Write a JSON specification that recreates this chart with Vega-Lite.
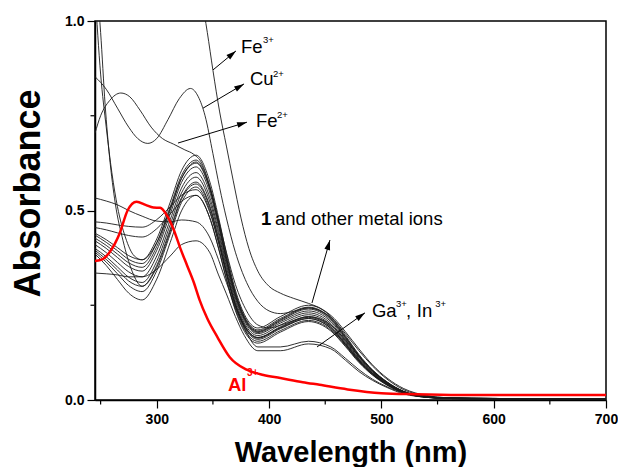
{
  "$schema": "https://vega.github.io/schema/vega-lite/v6.json",
  "width": 511,
  "height": 379,
  "autosize": {"type": "none"},
  "padding": {"left": 95, "top": 21, "right": 12, "bottom": 67},
  "background": "white",
  "config": {
    "view": {"stroke": "black", "strokeWidth": 1.5},
    "font": "Liberation Sans"
  },
  "datasets": {
    "spectra": [
      {"series":"c1","wavelength":245,"absorbance":0.44},{"series":"c1","wavelength":255,"absorbance":0.423},{"series":"c1","wavelength":265,"absorbance":0.402},{"series":"c1","wavelength":275,"absorbance":0.381},{"series":"c1","wavelength":287,"absorbance":0.37},{"series":"c1","wavelength":300,"absorbance":0.425},{"series":"c1","wavelength":312,"absorbance":0.522},{"series":"c1","wavelength":322,"absorbance":0.605},{"series":"c1","wavelength":335,"absorbance":0.646},{"series":"c1","wavelength":347,"absorbance":0.578},{"series":"c1","wavelength":355,"absorbance":0.482},{"series":"c1","wavelength":362,"absorbance":0.386},{"series":"c1","wavelength":370,"absorbance":0.29},{"series":"c1","wavelength":378,"absorbance":0.226},{"series":"c1","wavelength":390,"absorbance":0.19},{"series":"c1","wavelength":410,"absorbance":0.22},{"series":"c1","wavelength":435,"absorbance":0.25},{"series":"c1","wavelength":455,"absorbance":0.22},{"series":"c1","wavelength":468,"absorbance":0.17},{"series":"c1","wavelength":480,"absorbance":0.12},{"series":"c1","wavelength":492,"absorbance":0.08},{"series":"c1","wavelength":505,"absorbance":0.048},{"series":"c1","wavelength":520,"absorbance":0.023},{"series":"c1","wavelength":540,"absorbance":0.009},{"series":"c1","wavelength":560,"absorbance":0.005},{"series":"c1","wavelength":600,"absorbance":0.004},{"series":"c1","wavelength":700,"absorbance":0.003},
      {"series":"c2","wavelength":245,"absorbance":0.435},{"series":"c2","wavelength":255,"absorbance":0.416},{"series":"c2","wavelength":265,"absorbance":0.394},{"series":"c2","wavelength":275,"absorbance":0.371},{"series":"c2","wavelength":287,"absorbance":0.36},{"series":"c2","wavelength":300,"absorbance":0.415},{"series":"c2","wavelength":312,"absorbance":0.51},{"series":"c2","wavelength":322,"absorbance":0.592},{"series":"c2","wavelength":335,"absorbance":0.633},{"series":"c2","wavelength":347,"absorbance":0.566},{"series":"c2","wavelength":355,"absorbance":0.472},{"series":"c2","wavelength":362,"absorbance":0.378},{"series":"c2","wavelength":370,"absorbance":0.284},{"series":"c2","wavelength":378,"absorbance":0.221},{"series":"c2","wavelength":390,"absorbance":0.185},{"series":"c2","wavelength":410,"absorbance":0.215},{"series":"c2","wavelength":435,"absorbance":0.245},{"series":"c2","wavelength":455,"absorbance":0.216},{"series":"c2","wavelength":468,"absorbance":0.167},{"series":"c2","wavelength":480,"absorbance":0.118},{"series":"c2","wavelength":492,"absorbance":0.078},{"series":"c2","wavelength":505,"absorbance":0.047},{"series":"c2","wavelength":520,"absorbance":0.022},{"series":"c2","wavelength":540,"absorbance":0.009},{"series":"c2","wavelength":560,"absorbance":0.005},{"series":"c2","wavelength":600,"absorbance":0.004},{"series":"c2","wavelength":700,"absorbance":0.003},
      {"series":"c3","wavelength":245,"absorbance":0.427},{"series":"c3","wavelength":255,"absorbance":0.408},{"series":"c3","wavelength":265,"absorbance":0.385},{"series":"c3","wavelength":275,"absorbance":0.362},{"series":"c3","wavelength":287,"absorbance":0.35},{"series":"c3","wavelength":300,"absorbance":0.405},{"series":"c3","wavelength":312,"absorbance":0.501},{"series":"c3","wavelength":322,"absorbance":0.584},{"series":"c3","wavelength":335,"absorbance":0.625},{"series":"c3","wavelength":347,"absorbance":0.558},{"series":"c3","wavelength":355,"absorbance":0.465},{"series":"c3","wavelength":362,"absorbance":0.371},{"series":"c3","wavelength":370,"absorbance":0.278},{"series":"c3","wavelength":378,"absorbance":0.216},{"series":"c3","wavelength":390,"absorbance":0.18},{"series":"c3","wavelength":410,"absorbance":0.21},{"series":"c3","wavelength":435,"absorbance":0.24},{"series":"c3","wavelength":455,"absorbance":0.211},{"series":"c3","wavelength":468,"absorbance":0.163},{"series":"c3","wavelength":480,"absorbance":0.115},{"series":"c3","wavelength":492,"absorbance":0.077},{"series":"c3","wavelength":505,"absorbance":0.046},{"series":"c3","wavelength":520,"absorbance":0.022},{"series":"c3","wavelength":540,"absorbance":0.008},{"series":"c3","wavelength":560,"absorbance":0.005},{"series":"c3","wavelength":600,"absorbance":0.004},{"series":"c3","wavelength":700,"absorbance":0.003},
      {"series":"c4","wavelength":245,"absorbance":0.42},{"series":"c4","wavelength":255,"absorbance":0.4},{"series":"c4","wavelength":265,"absorbance":0.376},{"series":"c4","wavelength":275,"absorbance":0.352},{"series":"c4","wavelength":287,"absorbance":0.34},{"series":"c4","wavelength":300,"absorbance":0.395},{"series":"c4","wavelength":312,"absorbance":0.491},{"series":"c4","wavelength":322,"absorbance":0.574},{"series":"c4","wavelength":335,"absorbance":0.615},{"series":"c4","wavelength":347,"absorbance":0.549},{"series":"c4","wavelength":355,"absorbance":0.458},{"series":"c4","wavelength":362,"absorbance":0.366},{"series":"c4","wavelength":370,"absorbance":0.274},{"series":"c4","wavelength":378,"absorbance":0.213},{"series":"c4","wavelength":390,"absorbance":0.178},{"series":"c4","wavelength":410,"absorbance":0.207},{"series":"c4","wavelength":435,"absorbance":0.235},{"series":"c4","wavelength":455,"absorbance":0.207},{"series":"c4","wavelength":468,"absorbance":0.16},{"series":"c4","wavelength":480,"absorbance":0.113},{"series":"c4","wavelength":492,"absorbance":0.075},{"series":"c4","wavelength":505,"absorbance":0.045},{"series":"c4","wavelength":520,"absorbance":0.021},{"series":"c4","wavelength":540,"absorbance":0.008},{"series":"c4","wavelength":560,"absorbance":0.005},{"series":"c4","wavelength":600,"absorbance":0.004},{"series":"c4","wavelength":700,"absorbance":0.003},
      {"series":"c5","wavelength":245,"absorbance":0.41},{"series":"c5","wavelength":255,"absorbance":0.389},{"series":"c5","wavelength":265,"absorbance":0.363},{"series":"c5","wavelength":275,"absorbance":0.338},{"series":"c5","wavelength":287,"absorbance":0.325},{"series":"c5","wavelength":300,"absorbance":0.38},{"series":"c5","wavelength":312,"absorbance":0.476},{"series":"c5","wavelength":322,"absorbance":0.559},{"series":"c5","wavelength":335,"absorbance":0.6},{"series":"c5","wavelength":347,"absorbance":0.536},{"series":"c5","wavelength":355,"absorbance":0.447},{"series":"c5","wavelength":362,"absorbance":0.358},{"series":"c5","wavelength":370,"absorbance":0.269},{"series":"c5","wavelength":378,"absorbance":0.209},{"series":"c5","wavelength":390,"absorbance":0.175},{"series":"c5","wavelength":410,"absorbance":0.203},{"series":"c5","wavelength":435,"absorbance":0.23},{"series":"c5","wavelength":455,"absorbance":0.202},{"series":"c5","wavelength":468,"absorbance":0.156},{"series":"c5","wavelength":480,"absorbance":0.11},{"series":"c5","wavelength":492,"absorbance":0.074},{"series":"c5","wavelength":505,"absorbance":0.044},{"series":"c5","wavelength":520,"absorbance":0.021},{"series":"c5","wavelength":540,"absorbance":0.008},{"series":"c5","wavelength":560,"absorbance":0.005},{"series":"c5","wavelength":600,"absorbance":0.003},{"series":"c5","wavelength":700,"absorbance":0.003},
      {"series":"c6","wavelength":245,"absorbance":0.4},{"series":"c6","wavelength":255,"absorbance":0.378},{"series":"c6","wavelength":265,"absorbance":0.351},{"series":"c6","wavelength":275,"absorbance":0.324},{"series":"c6","wavelength":287,"absorbance":0.31},{"series":"c6","wavelength":300,"absorbance":0.366},{"series":"c6","wavelength":312,"absorbance":0.463},{"series":"c6","wavelength":322,"absorbance":0.546},{"series":"c6","wavelength":335,"absorbance":0.588},{"series":"c6","wavelength":347,"absorbance":0.525},{"series":"c6","wavelength":355,"absorbance":0.438},{"series":"c6","wavelength":362,"absorbance":0.35},{"series":"c6","wavelength":370,"absorbance":0.262},{"series":"c6","wavelength":378,"absorbance":0.203},{"series":"c6","wavelength":390,"absorbance":0.17},{"series":"c6","wavelength":410,"absorbance":0.198},{"series":"c6","wavelength":435,"absorbance":0.225},{"series":"c6","wavelength":455,"absorbance":0.198},{"series":"c6","wavelength":468,"absorbance":0.153},{"series":"c6","wavelength":480,"absorbance":0.108},{"series":"c6","wavelength":492,"absorbance":0.072},{"series":"c6","wavelength":505,"absorbance":0.043},{"series":"c6","wavelength":520,"absorbance":0.02},{"series":"c6","wavelength":540,"absorbance":0.008},{"series":"c6","wavelength":560,"absorbance":0.005},{"series":"c6","wavelength":600,"absorbance":0.003},{"series":"c6","wavelength":700,"absorbance":0.003},
      {"series":"c7","wavelength":245,"absorbance":0.395},{"series":"c7","wavelength":255,"absorbance":0.371},{"series":"c7","wavelength":265,"absorbance":0.343},{"series":"c7","wavelength":275,"absorbance":0.314},{"series":"c7","wavelength":287,"absorbance":0.3},{"series":"c7","wavelength":300,"absorbance":0.355},{"series":"c7","wavelength":312,"absorbance":0.451},{"series":"c7","wavelength":322,"absorbance":0.534},{"series":"c7","wavelength":335,"absorbance":0.575},{"series":"c7","wavelength":347,"absorbance":0.514},{"series":"c7","wavelength":355,"absorbance":0.427},{"series":"c7","wavelength":362,"absorbance":0.341},{"series":"c7","wavelength":370,"absorbance":0.255},{"series":"c7","wavelength":378,"absorbance":0.198},{"series":"c7","wavelength":390,"absorbance":0.165},{"series":"c7","wavelength":410,"absorbance":0.193},{"series":"c7","wavelength":435,"absorbance":0.22},{"series":"c7","wavelength":455,"absorbance":0.194},{"series":"c7","wavelength":468,"absorbance":0.15},{"series":"c7","wavelength":480,"absorbance":0.106},{"series":"c7","wavelength":492,"absorbance":0.07},{"series":"c7","wavelength":505,"absorbance":0.042},{"series":"c7","wavelength":520,"absorbance":0.02},{"series":"c7","wavelength":540,"absorbance":0.008},{"series":"c7","wavelength":560,"absorbance":0.004},{"series":"c7","wavelength":600,"absorbance":0.003},{"series":"c7","wavelength":700,"absorbance":0.003},
      {"series":"c8","wavelength":245,"absorbance":0.39},{"series":"c8","wavelength":255,"absorbance":0.364},{"series":"c8","wavelength":265,"absorbance":0.333},{"series":"c8","wavelength":275,"absorbance":0.302},{"series":"c8","wavelength":287,"absorbance":0.286},{"series":"c8","wavelength":300,"absorbance":0.341},{"series":"c8","wavelength":312,"absorbance":0.438},{"series":"c8","wavelength":322,"absorbance":0.521},{"series":"c8","wavelength":335,"absorbance":0.562},{"series":"c8","wavelength":347,"absorbance":0.502},{"series":"c8","wavelength":355,"absorbance":0.417},{"series":"c8","wavelength":362,"absorbance":0.333},{"series":"c8","wavelength":370,"absorbance":0.248},{"series":"c8","wavelength":378,"absorbance":0.192},{"series":"c8","wavelength":390,"absorbance":0.16},{"series":"c8","wavelength":410,"absorbance":0.188},{"series":"c8","wavelength":435,"absorbance":0.215},{"series":"c8","wavelength":455,"absorbance":0.189},{"series":"c8","wavelength":468,"absorbance":0.146},{"series":"c8","wavelength":480,"absorbance":0.103},{"series":"c8","wavelength":492,"absorbance":0.069},{"series":"c8","wavelength":505,"absorbance":0.041},{"series":"c8","wavelength":520,"absorbance":0.019},{"series":"c8","wavelength":540,"absorbance":0.008},{"series":"c8","wavelength":560,"absorbance":0.004},{"series":"c8","wavelength":600,"absorbance":0.003},{"series":"c8","wavelength":700,"absorbance":0.003},
      {"series":"c9","wavelength":245,"absorbance":0.385},{"series":"c9","wavelength":255,"absorbance":0.355},{"series":"c9","wavelength":265,"absorbance":0.318},{"series":"c9","wavelength":275,"absorbance":0.282},{"series":"c9","wavelength":287,"absorbance":0.264},{"series":"c9","wavelength":300,"absorbance":0.319},{"series":"c9","wavelength":312,"absorbance":0.416},{"series":"c9","wavelength":322,"absorbance":0.499},{"series":"c9","wavelength":335,"absorbance":0.54},{"series":"c9","wavelength":347,"absorbance":0.482},{"series":"c9","wavelength":355,"absorbance":0.401},{"series":"c9","wavelength":362,"absorbance":0.321},{"series":"c9","wavelength":370,"absorbance":0.24},{"series":"c9","wavelength":378,"absorbance":0.186},{"series":"c9","wavelength":390,"absorbance":0.155},{"series":"c9","wavelength":410,"absorbance":0.183},{"series":"c9","wavelength":435,"absorbance":0.21},{"series":"c9","wavelength":455,"absorbance":0.185},{"series":"c9","wavelength":468,"absorbance":0.143},{"series":"c9","wavelength":480,"absorbance":0.101},{"series":"c9","wavelength":492,"absorbance":0.067},{"series":"c9","wavelength":505,"absorbance":0.04},{"series":"c9","wavelength":520,"absorbance":0.019},{"series":"c9","wavelength":540,"absorbance":0.007},{"series":"c9","wavelength":560,"absorbance":0.004},{"series":"c9","wavelength":600,"absorbance":0.003},{"series":"c9","wavelength":700,"absorbance":0.003},
      {"series":"c10","wavelength":245,"absorbance":0.455},{"series":"c10","wavelength":255,"absorbance":0.449},{"series":"c10","wavelength":265,"absorbance":0.441},{"series":"c10","wavelength":275,"absorbance":0.434},{"series":"c10","wavelength":287,"absorbance":0.43},{"series":"c10","wavelength":300,"absorbance":0.452},{"series":"c10","wavelength":312,"absorbance":0.491},{"series":"c10","wavelength":322,"absorbance":0.524},{"series":"c10","wavelength":335,"absorbance":0.54},{"series":"c10","wavelength":347,"absorbance":0.482},{"series":"c10","wavelength":355,"absorbance":0.4},{"series":"c10","wavelength":362,"absorbance":0.318},{"series":"c10","wavelength":370,"absorbance":0.236},{"series":"c10","wavelength":378,"absorbance":0.181},{"series":"c10","wavelength":390,"absorbance":0.15},{"series":"c10","wavelength":410,"absorbance":0.179},{"series":"c10","wavelength":435,"absorbance":0.207},{"series":"c10","wavelength":455,"absorbance":0.182},{"series":"c10","wavelength":468,"absorbance":0.141},{"series":"c10","wavelength":480,"absorbance":0.099},{"series":"c10","wavelength":492,"absorbance":0.066},{"series":"c10","wavelength":505,"absorbance":0.039},{"series":"c10","wavelength":520,"absorbance":0.019},{"series":"c10","wavelength":540,"absorbance":0.007},{"series":"c10","wavelength":560,"absorbance":0.004},{"series":"c10","wavelength":600,"absorbance":0.003},{"series":"c10","wavelength":700,"absorbance":0.002},
      {"series":"c11","wavelength":245,"absorbance":0.47},{"series":"c11","wavelength":255,"absorbance":0.467},{"series":"c11","wavelength":265,"absorbance":0.462},{"series":"c11","wavelength":275,"absorbance":0.458},{"series":"c11","wavelength":287,"absorbance":0.456},{"series":"c11","wavelength":300,"absorbance":0.476},{"series":"c11","wavelength":312,"absorbance":0.51},{"series":"c11","wavelength":322,"absorbance":0.54},{"series":"c11","wavelength":335,"absorbance":0.555},{"series":"c11","wavelength":347,"absorbance":0.497},{"series":"c11","wavelength":355,"absorbance":0.415},{"series":"c11","wavelength":362,"absorbance":0.333},{"series":"c11","wavelength":370,"absorbance":0.251},{"series":"c11","wavelength":378,"absorbance":0.196},{"series":"c11","wavelength":390,"absorbance":0.165},{"series":"c11","wavelength":410,"absorbance":0.19},{"series":"c11","wavelength":435,"absorbance":0.215},{"series":"c11","wavelength":455,"absorbance":0.189},{"series":"c11","wavelength":468,"absorbance":0.146},{"series":"c11","wavelength":480,"absorbance":0.103},{"series":"c11","wavelength":492,"absorbance":0.069},{"series":"c11","wavelength":505,"absorbance":0.041},{"series":"c11","wavelength":520,"absorbance":0.019},{"series":"c11","wavelength":540,"absorbance":0.008},{"series":"c11","wavelength":560,"absorbance":0.004},{"series":"c11","wavelength":600,"absorbance":0.003},{"series":"c11","wavelength":700,"absorbance":0.003},
      {"series":"h1","wavelength":245,"absorbance":1.08},{"series":"h1","wavelength":250,"absorbance":0.86},{"series":"h1","wavelength":255,"absorbance":0.72},{"series":"h1","wavelength":260,"absorbance":0.6},{"series":"h1","wavelength":265,"absorbance":0.51},{"series":"h1","wavelength":272,"absorbance":0.43},{"series":"h1","wavelength":280,"absorbance":0.38},{"series":"h1","wavelength":287,"absorbance":0.37},{"series":"h1","wavelength":300,"absorbance":0.415},{"series":"h1","wavelength":312,"absorbance":0.505},{"series":"h1","wavelength":322,"absorbance":0.585},{"series":"h1","wavelength":335,"absorbance":0.628},{"series":"h1","wavelength":347,"absorbance":0.56},{"series":"h1","wavelength":355,"absorbance":0.467},{"series":"h1","wavelength":362,"absorbance":0.373},{"series":"h1","wavelength":370,"absorbance":0.28},{"series":"h1","wavelength":378,"absorbance":0.218},{"series":"h1","wavelength":390,"absorbance":0.182},{"series":"h1","wavelength":410,"absorbance":0.212},{"series":"h1","wavelength":435,"absorbance":0.243},{"series":"h1","wavelength":455,"absorbance":0.214},{"series":"h1","wavelength":468,"absorbance":0.165},{"series":"h1","wavelength":480,"absorbance":0.117},{"series":"h1","wavelength":492,"absorbance":0.078},{"series":"h1","wavelength":505,"absorbance":0.046},{"series":"h1","wavelength":520,"absorbance":0.022},{"series":"h1","wavelength":540,"absorbance":0.009},{"series":"h1","wavelength":560,"absorbance":0.005},{"series":"h1","wavelength":600,"absorbance":0.004},{"series":"h1","wavelength":700,"absorbance":0.003},
      {"series":"h2","wavelength":245,"absorbance":1.15},{"series":"h2","wavelength":250,"absorbance":0.97},{"series":"h2","wavelength":254,"absorbance":0.78},{"series":"h2","wavelength":258,"absorbance":0.64},{"series":"h2","wavelength":263,"absorbance":0.52},{"series":"h2","wavelength":270,"absorbance":0.42},{"series":"h2","wavelength":278,"absorbance":0.34},{"series":"h2","wavelength":287,"absorbance":0.3},{"series":"h2","wavelength":300,"absorbance":0.35},{"series":"h2","wavelength":312,"absorbance":0.445},{"series":"h2","wavelength":322,"absorbance":0.53},{"series":"h2","wavelength":335,"absorbance":0.57},{"series":"h2","wavelength":347,"absorbance":0.51},{"series":"h2","wavelength":355,"absorbance":0.424},{"series":"h2","wavelength":362,"absorbance":0.338},{"series":"h2","wavelength":370,"absorbance":0.252},{"series":"h2","wavelength":378,"absorbance":0.196},{"series":"h2","wavelength":390,"absorbance":0.163},{"series":"h2","wavelength":410,"absorbance":0.191},{"series":"h2","wavelength":435,"absorbance":0.218},{"series":"h2","wavelength":455,"absorbance":0.192},{"series":"h2","wavelength":468,"absorbance":0.148},{"series":"h2","wavelength":480,"absorbance":0.105},{"series":"h2","wavelength":492,"absorbance":0.07},{"series":"h2","wavelength":505,"absorbance":0.042},{"series":"h2","wavelength":520,"absorbance":0.02},{"series":"h2","wavelength":540,"absorbance":0.008},{"series":"h2","wavelength":560,"absorbance":0.004},{"series":"h2","wavelength":600,"absorbance":0.003},{"series":"h2","wavelength":700,"absorbance":0.003},
      {"series":"Fe3+","wavelength":245,"absorbance":1.6},{"series":"Fe3+","wavelength":300,"absorbance":1.45},{"series":"Fe3+","wavelength":330,"absorbance":1.2},{"series":"Fe3+","wavelength":340,"absorbance":1.06},{"series":"Fe3+","wavelength":345,"absorbance":0.97},{"series":"Fe3+","wavelength":350,"absorbance":0.87},{"series":"Fe3+","wavelength":356,"absorbance":0.76},{"series":"Fe3+","wavelength":362,"absorbance":0.67},{"series":"Fe3+","wavelength":368,"absorbance":0.58},{"series":"Fe3+","wavelength":375,"absorbance":0.48},{"series":"Fe3+","wavelength":382,"absorbance":0.4},{"series":"Fe3+","wavelength":390,"absorbance":0.34},{"series":"Fe3+","wavelength":400,"absorbance":0.3},{"series":"Fe3+","wavelength":410,"absorbance":0.282},{"series":"Fe3+","wavelength":422,"absorbance":0.268},{"series":"Fe3+","wavelength":435,"absorbance":0.255},{"series":"Fe3+","wavelength":447,"absorbance":0.24},{"series":"Fe3+","wavelength":458,"absorbance":0.215},{"series":"Fe3+","wavelength":468,"absorbance":0.18},{"series":"Fe3+","wavelength":480,"absorbance":0.135},{"series":"Fe3+","wavelength":492,"absorbance":0.093},{"series":"Fe3+","wavelength":505,"absorbance":0.058},{"series":"Fe3+","wavelength":520,"absorbance":0.03},{"series":"Fe3+","wavelength":540,"absorbance":0.012},{"series":"Fe3+","wavelength":560,"absorbance":0.006},{"series":"Fe3+","wavelength":600,"absorbance":0.004},{"series":"Fe3+","wavelength":700,"absorbance":0.003},
      {"series":"Cu2+","wavelength":245,"absorbance":0.853},{"series":"Cu2+","wavelength":255,"absorbance":0.82},{"series":"Cu2+","wavelength":265,"absorbance":0.77},{"series":"Cu2+","wavelength":275,"absorbance":0.72},{"series":"Cu2+","wavelength":283,"absorbance":0.69},{"series":"Cu2+","wavelength":292,"absorbance":0.677},{"series":"Cu2+","wavelength":300,"absorbance":0.69},{"series":"Cu2+","wavelength":310,"absorbance":0.74},{"series":"Cu2+","wavelength":320,"absorbance":0.795},{"series":"Cu2+","wavelength":330,"absorbance":0.822},{"series":"Cu2+","wavelength":337,"absorbance":0.8},{"series":"Cu2+","wavelength":343,"absorbance":0.75},{"series":"Cu2+","wavelength":350,"absorbance":0.65},{"series":"Cu2+","wavelength":356,"absorbance":0.56},{"series":"Cu2+","wavelength":362,"absorbance":0.48},{"series":"Cu2+","wavelength":370,"absorbance":0.39},{"series":"Cu2+","wavelength":380,"absorbance":0.31},{"series":"Cu2+","wavelength":390,"absorbance":0.26},{"series":"Cu2+","wavelength":400,"absorbance":0.235},{"series":"Cu2+","wavelength":410,"absorbance":0.228},{"series":"Cu2+","wavelength":422,"absorbance":0.234},{"series":"Cu2+","wavelength":435,"absorbance":0.243},{"series":"Cu2+","wavelength":447,"absorbance":0.233},{"series":"Cu2+","wavelength":458,"absorbance":0.21},{"series":"Cu2+","wavelength":468,"absorbance":0.175},{"series":"Cu2+","wavelength":480,"absorbance":0.13},{"series":"Cu2+","wavelength":492,"absorbance":0.09},{"series":"Cu2+","wavelength":505,"absorbance":0.055},{"series":"Cu2+","wavelength":520,"absorbance":0.027},{"series":"Cu2+","wavelength":540,"absorbance":0.011},{"series":"Cu2+","wavelength":560,"absorbance":0.006},{"series":"Cu2+","wavelength":600,"absorbance":0.004},{"series":"Cu2+","wavelength":700,"absorbance":0.003},
      {"series":"Fe2+","wavelength":245,"absorbance":0.704},{"series":"Fe2+","wavelength":250,"absorbance":0.75},{"series":"Fe2+","wavelength":258,"absorbance":0.79},{"series":"Fe2+","wavelength":268,"absorbance":0.81},{"series":"Fe2+","wavelength":276,"absorbance":0.8},{"series":"Fe2+","wavelength":285,"absorbance":0.765},{"series":"Fe2+","wavelength":295,"absorbance":0.72},{"series":"Fe2+","wavelength":305,"absorbance":0.69},{"series":"Fe2+","wavelength":315,"absorbance":0.675},{"series":"Fe2+","wavelength":325,"absorbance":0.66},{"series":"Fe2+","wavelength":333,"absorbance":0.648},{"series":"Fe2+","wavelength":340,"absorbance":0.625},{"series":"Fe2+","wavelength":347,"absorbance":0.565},{"series":"Fe2+","wavelength":355,"absorbance":0.475},{"series":"Fe2+","wavelength":362,"absorbance":0.39},{"series":"Fe2+","wavelength":370,"absorbance":0.305},{"series":"Fe2+","wavelength":380,"absorbance":0.235},{"series":"Fe2+","wavelength":390,"absorbance":0.198},{"series":"Fe2+","wavelength":400,"absorbance":0.19},{"series":"Fe2+","wavelength":410,"absorbance":0.197},{"series":"Fe2+","wavelength":422,"absorbance":0.21},{"series":"Fe2+","wavelength":435,"absorbance":0.22},{"series":"Fe2+","wavelength":447,"absorbance":0.212},{"series":"Fe2+","wavelength":458,"absorbance":0.19},{"series":"Fe2+","wavelength":468,"absorbance":0.158},{"series":"Fe2+","wavelength":480,"absorbance":0.115},{"series":"Fe2+","wavelength":492,"absorbance":0.078},{"series":"Fe2+","wavelength":505,"absorbance":0.047},{"series":"Fe2+","wavelength":520,"absorbance":0.022},{"series":"Fe2+","wavelength":540,"absorbance":0.009},{"series":"Fe2+","wavelength":560,"absorbance":0.005},{"series":"Fe2+","wavelength":600,"absorbance":0.004},{"series":"Fe2+","wavelength":700,"absorbance":0.003},
      {"series":"Ga3+","wavelength":245,"absorbance":0.533},{"series":"Ga3+","wavelength":255,"absorbance":0.525},{"series":"Ga3+","wavelength":265,"absorbance":0.515},{"series":"Ga3+","wavelength":275,"absorbance":0.5},{"series":"Ga3+","wavelength":287,"absorbance":0.485},{"series":"Ga3+","wavelength":300,"absorbance":0.472},{"series":"Ga3+","wavelength":312,"absorbance":0.47},{"series":"Ga3+","wavelength":322,"absorbance":0.475},{"series":"Ga3+","wavelength":335,"absorbance":0.47},{"series":"Ga3+","wavelength":347,"absorbance":0.43},{"series":"Ga3+","wavelength":355,"absorbance":0.37},{"series":"Ga3+","wavelength":362,"absorbance":0.31},{"series":"Ga3+","wavelength":370,"absorbance":0.245},{"series":"Ga3+","wavelength":378,"absorbance":0.19},{"series":"Ga3+","wavelength":390,"absorbance":0.14},{"series":"Ga3+","wavelength":410,"absorbance":0.14},{"series":"Ga3+","wavelength":435,"absorbance":0.155},{"series":"Ga3+","wavelength":455,"absorbance":0.14},{"series":"Ga3+","wavelength":468,"absorbance":0.11},{"series":"Ga3+","wavelength":480,"absorbance":0.08},{"series":"Ga3+","wavelength":492,"absorbance":0.055},{"series":"Ga3+","wavelength":505,"absorbance":0.035},{"series":"Ga3+","wavelength":520,"absorbance":0.018},{"series":"Ga3+","wavelength":540,"absorbance":0.008},{"series":"Ga3+","wavelength":560,"absorbance":0.004},{"series":"Ga3+","wavelength":600,"absorbance":0.003},{"series":"Ga3+","wavelength":700,"absorbance":0.003},
      {"series":"In3+","wavelength":245,"absorbance":0.335},{"series":"In3+","wavelength":255,"absorbance":0.333},{"series":"In3+","wavelength":265,"absorbance":0.33},{"series":"In3+","wavelength":275,"absorbance":0.325},{"series":"In3+","wavelength":287,"absorbance":0.325},{"series":"In3+","wavelength":300,"absorbance":0.345},{"series":"In3+","wavelength":312,"absorbance":0.38},{"series":"In3+","wavelength":322,"absorbance":0.41},{"series":"In3+","wavelength":335,"absorbance":0.42},{"series":"In3+","wavelength":347,"absorbance":0.39},{"series":"In3+","wavelength":355,"absorbance":0.33},{"series":"In3+","wavelength":362,"absorbance":0.28},{"series":"In3+","wavelength":370,"absorbance":0.22},{"series":"In3+","wavelength":378,"absorbance":0.17},{"series":"In3+","wavelength":390,"absorbance":0.13},{"series":"In3+","wavelength":410,"absorbance":0.13},{"series":"In3+","wavelength":435,"absorbance":0.148},{"series":"In3+","wavelength":455,"absorbance":0.135},{"series":"In3+","wavelength":468,"absorbance":0.105},{"series":"In3+","wavelength":480,"absorbance":0.075},{"series":"In3+","wavelength":492,"absorbance":0.052},{"series":"In3+","wavelength":505,"absorbance":0.033},{"series":"In3+","wavelength":520,"absorbance":0.016},{"series":"In3+","wavelength":540,"absorbance":0.007},{"series":"In3+","wavelength":560,"absorbance":0.004},{"series":"In3+","wavelength":600,"absorbance":0.003},{"series":"In3+","wavelength":700,"absorbance":0.003},
      {"series":"Al3+","wavelength":245,"absorbance":0.367},{"series":"Al3+","wavelength":252,"absorbance":0.372},{"series":"Al3+","wavelength":258,"absorbance":0.39},{"series":"Al3+","wavelength":267,"absorbance":0.44},{"series":"Al3+","wavelength":274,"absorbance":0.5},{"series":"Al3+","wavelength":282,"absorbance":0.523},{"series":"Al3+","wavelength":290,"absorbance":0.515},{"series":"Al3+","wavelength":297,"absorbance":0.508},{"series":"Al3+","wavelength":303,"absorbance":0.507},{"series":"Al3+","wavelength":309,"absorbance":0.487},{"series":"Al3+","wavelength":315,"absorbance":0.45},{"series":"Al3+","wavelength":321,"absorbance":0.4},{"series":"Al3+","wavelength":327,"absorbance":0.355},{"series":"Al3+","wavelength":333,"absorbance":0.31},{"series":"Al3+","wavelength":338,"absorbance":0.265},{"series":"Al3+","wavelength":345,"absorbance":0.215},{"series":"Al3+","wavelength":354,"absorbance":0.166},{"series":"Al3+","wavelength":365,"absorbance":0.113},{"series":"Al3+","wavelength":380,"absorbance":0.08},{"series":"Al3+","wavelength":395,"absorbance":0.066},{"series":"Al3+","wavelength":410,"absorbance":0.058},{"series":"Al3+","wavelength":430,"absorbance":0.047},{"series":"Al3+","wavelength":445,"absorbance":0.04},{"series":"Al3+","wavelength":470,"absorbance":0.028},{"series":"Al3+","wavelength":500,"absorbance":0.018},{"series":"Al3+","wavelength":530,"absorbance":0.015},{"series":"Al3+","wavelength":570,"absorbance":0.013},{"series":"Al3+","wavelength":620,"absorbance":0.013},{"series":"Al3+","wavelength":700,"absorbance":0.013}
    ],
    "arrows": [
      {"name":"Fe3","wavelength":350.1,"absorbance":0.871,"wavelength2":370.5,"absorbance2":0.921},
      {"name":"Cu2","wavelength":341.2,"absorbance":0.77,"wavelength2":377.7,"absorbance2":0.834},
      {"name":"Fe2","wavelength":318.9,"absorbance":0.678,"wavelength2":380.3,"absorbance2":0.733},
      {"name":"other","wavelength":438.2,"absorbance":0.256,"wavelength2":454.2,"absorbance2":0.422},
      {"name":"GaIn","wavelength":442.7,"absorbance":0.14,"wavelength2":485.4,"absorbance2":0.23}
    ],
    "minorX": [
      {"wavelength":250,"absorbance":0},{"wavelength":350,"absorbance":0},{"wavelength":450,"absorbance":0},{"wavelength":550,"absorbance":0},{"wavelength":650,"absorbance":0}
    ],
    "minorY": [
      {"wavelength":245,"absorbance":0.25},{"wavelength":245,"absorbance":0.75}
    ],
    "labels": [
      {"text":"Fe","wavelength":375.0,"absorbance":0.916,"style":"main"},
      {"text":"3+","wavelength":394.6,"absorbance":0.942,"style":"sup"},
      {"text":"Cu","wavelength":383.0,"absorbance":0.831,"style":"main"},
      {"text":"2+","wavelength":403.5,"absorbance":0.852,"style":"sup"},
      {"text":"Fe","wavelength":388.4,"absorbance":0.72,"style":"main"},
      {"text":"2+","wavelength":407.1,"absorbance":0.744,"style":"sup"},
      {"text":"1","wavelength":392.8,"absorbance":0.462,"style":"bold"},
      {"text":"and other metal ions","wavelength":405.3,"absorbance":0.462,"style":"main"},
      {"text":"Ga","wavelength":491.6,"absorbance":0.219,"style":"main"},
      {"text":"3+","wavelength":513.0,"absorbance":0.245,"style":"sup"},
      {"text":",","wavelength":522.0,"absorbance":0.219,"style":"main"},
      {"text":"In","wavelength":531.5,"absorbance":0.219,"style":"main"},
      {"text":"3+","wavelength":548.0,"absorbance":0.245,"style":"sup"},
      {"text":"Al","wavelength":363.4,"absorbance":0.024,"style":"al"},
      {"text":"3+","wavelength":380.3,"absorbance":0.063,"style":"alsup"}
    ]
  },
  "encoding": {
    "x": {
      "field": "wavelength", "type": "quantitative",
      "scale": {"domain": [245, 700], "nice": false, "zero": false},
      "axis": {
        "title": "Wavelength (nm)",
        "values": [300, 400, 500, 600, 700],
        "ticks": true, "tickSize": 8,
        "tickColor": "black", "tickWidth": 1.2,
        "domainColor": "black", "domainWidth": 1.5,
        "grid": false,
        "labelFont": "Liberation Sans", "labelFontSize": 14, "labelFontWeight": "bold", "labelColor": "black",
        "labelPadding": 4, "labelFlush": false, "labelOverlap": false,
        "titleFont": "Liberation Sans", "titleFontSize": 29, "titleFontWeight": "bold", "titleColor": "black",
        "titleBaseline": "middle", "titleY": 52
      }
    },
    "y": {
      "field": "absorbance", "type": "quantitative",
      "scale": {"domain": [0, 1], "nice": false, "zero": false},
      "axis": {
        "title": "Absorbance",
        "values": [0, 0.5, 1],
        "format": ".1f",
        "ticks": true, "tickSize": 8,
        "tickColor": "black", "tickWidth": 1.2,
        "domainColor": "black", "domainWidth": 1.5,
        "grid": false,
        "labelFont": "Liberation Sans", "labelFontSize": 14, "labelFontWeight": "bold", "labelColor": "black",
        "labelPadding": 3, "labelFlush": false, "labelOverlap": false,
        "titleFont": "Liberation Sans", "titleFontSize": 36, "titleFontWeight": "bold", "titleColor": "black",
        "titleAngle": -90, "titleAlign": "center", "titleBaseline": "middle", "titleX": -67, "titleY": 172
      }
    }
  },
  "layer": [
    {
      "data": {"name": "spectra"},
      "transform": [{"filter": "datum.series !== 'Al3+'"}],
      "mark": {"type": "line", "color": "#1a1a1a", "strokeWidth": 0.9, "interpolate": "monotone", "clip": true},
      "encoding": {"detail": {"field": "series", "type": "nominal"}}
    },
    {
      "data": {"name": "spectra"},
      "transform": [{"filter": "datum.series === 'Al3+'"}],
      "mark": {"type": "line", "color": "#ff0000", "strokeWidth": 2.5, "interpolate": "monotone", "clip": true},
      "encoding": {}
    },
    {
      "data": {"name": "minorX"},
      "mark": {"type": "tick", "orient": "vertical", "color": "black", "size": 4, "thickness": 1.2, "yOffset": 2.5, "opacity": 1},
      "encoding": {}
    },
    {
      "data": {"name": "minorY"},
      "mark": {"type": "tick", "orient": "horizontal", "color": "black", "size": 4, "thickness": 1.2, "xOffset": -2.5, "opacity": 1},
      "encoding": {}
    },
    {
      "data": {"name": "arrows"},
      "mark": {"type": "rule", "color": "black", "strokeWidth": 1},
      "encoding": {"x2": {"field": "wavelength2"}, "y2": {"field": "absorbance2"}}
    },
    {
      "data": {"name": "arrows"},
      "transform": [{"filter": "datum.name === 'Fe3'"}],
      "mark": {"type": "point", "shape": "M 0 0 L -2.2 -0.65 L -2.2 0.65 Z", "filled": true, "color": "black", "opacity": 1, "size": 81, "angle": 320.4},
      "encoding": {"x": {"field": "wavelength2", "type": "quantitative"}, "y": {"field": "absorbance2", "type": "quantitative"}}
    },
    {
      "data": {"name": "arrows"},
      "transform": [{"filter": "datum.name === 'Cu2'"}],
      "mark": {"type": "point", "shape": "M 0 0 L -2.2 -0.65 L -2.2 0.65 Z", "filled": true, "color": "black", "opacity": 1, "size": 81, "angle": 329.7},
      "encoding": {"x": {"field": "wavelength2", "type": "quantitative"}, "y": {"field": "absorbance2", "type": "quantitative"}}
    },
    {
      "data": {"name": "arrows"},
      "transform": [{"filter": "datum.name === 'Fe2'"}],
      "mark": {"type": "point", "shape": "M 0 0 L -2.2 -0.65 L -2.2 0.65 Z", "filled": true, "color": "black", "opacity": 1, "size": 81, "angle": 343.1},
      "encoding": {"x": {"field": "wavelength2", "type": "quantitative"}, "y": {"field": "absorbance2", "type": "quantitative"}}
    },
    {
      "data": {"name": "arrows"},
      "transform": [{"filter": "datum.name === 'other'"}],
      "mark": {"type": "point", "shape": "M 0 0 L -2.2 -0.65 L -2.2 0.65 Z", "filled": true, "color": "black", "opacity": 1, "size": 81, "angle": 285.9},
      "encoding": {"x": {"field": "wavelength2", "type": "quantitative"}, "y": {"field": "absorbance2", "type": "quantitative"}}
    },
    {
      "data": {"name": "arrows"},
      "transform": [{"filter": "datum.name === 'GaIn'"}],
      "mark": {"type": "point", "shape": "M 0 0 L -2.2 -0.65 L -2.2 0.65 Z", "filled": true, "color": "black", "opacity": 1, "size": 81, "angle": 324.7},
      "encoding": {"x": {"field": "wavelength2", "type": "quantitative"}, "y": {"field": "absorbance2", "type": "quantitative"}}
    },
    {
      "data": {"name": "labels"},
      "transform": [{"filter": "datum.style === 'main'"}],
      "mark": {"type": "text", "align": "left", "baseline": "alphabetic", "font": "Liberation Sans", "fontSize": 18.5, "color": "black"},
      "encoding": {"text": {"field": "text"}}
    },
    {
      "data": {"name": "labels"},
      "transform": [{"filter": "datum.style === 'sup'"}],
      "mark": {"type": "text", "align": "left", "baseline": "alphabetic", "font": "Liberation Sans", "fontSize": 9.5, "color": "black"},
      "encoding": {"text": {"field": "text"}}
    },
    {
      "data": {"name": "labels"},
      "transform": [{"filter": "datum.style === 'bold'"}],
      "mark": {"type": "text", "align": "left", "baseline": "alphabetic", "font": "Liberation Sans", "fontSize": 18.5, "fontWeight": "bold", "color": "black"},
      "encoding": {"text": {"field": "text"}}
    },
    {
      "data": {"name": "labels"},
      "transform": [{"filter": "datum.style === 'al'"}],
      "mark": {"type": "text", "align": "left", "baseline": "alphabetic", "font": "Liberation Sans", "fontSize": 18.5, "fontWeight": "bold", "color": "#ff0000"},
      "encoding": {"text": {"field": "text"}}
    },
    {
      "data": {"name": "labels"},
      "transform": [{"filter": "datum.style === 'alsup'"}],
      "mark": {"type": "text", "align": "left", "baseline": "alphabetic", "font": "Liberation Sans", "fontSize": 10, "fontWeight": "bold", "color": "#ff0000"},
      "encoding": {"text": {"field": "text"}}
    }
  ]
}
